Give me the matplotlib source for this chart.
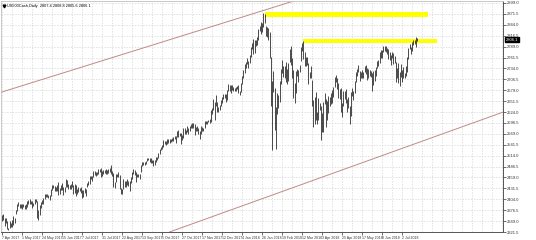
import matplotlib.pyplot as plt

# US500Cash daily bars, 7 Apr 2017 .. 18 Jul 2018 (one bar per trading day)
lows = [
    2348, 2351, 2337, 2343, 2328, 2326, 2332, 2335, 2335, 2339, 2344, 2367, 2375, 2386, 2381, 2382,
    2380, 2385, 2380, 2380, 2385, 2393, 2393, 2392, 2383, 2387, 2392, 2396, 2356, 2352, 2365, 2382,
    2391, 2393, 2405, 2409, 2410, 2407, 2403, 2412, 2427, 2432, 2426, 2425, 2426, 2415, 2418, 2428,
    2427, 2415, 2423, 2436, 2436, 2430, 2431, 2430, 2436, 2418, 2420, 2413, 2418, 2422, 2424, 2420,
    2406, 2410, 2419, 2413, 2434, 2440, 2443, 2455, 2450, 2461, 2465, 2463, 2466, 2469, 2472, 2459,
    2463, 2467, 2470, 2468, 2469, 2470, 2474, 2468, 2463, 2436, 2432, 2447, 2460, 2461, 2429, 2417,
    2418, 2430, 2436, 2435, 2439, 2437, 2424, 2444, 2456, 2469, 2466, 2447, 2459, 2460, 2456, 2474,
    2488, 2490, 2490, 2492, 2500, 2502, 2497, 2496, 2496, 2488, 2491, 2499, 2502, 2509, 2519, 2528,
    2531, 2536, 2544, 2542, 2543, 2547, 2547, 2549, 2551, 2552, 2556, 2547, 2560, 2562, 2563, 2544,
    2553, 2558, 2568, 2569, 2574, 2568, 2577, 2583, 2584, 2584, 2566, 2575, 2575, 2568, 2557, 2568,
    2576, 2576, 2584, 2594, 2595, 2598, 2596, 2600, 2620, 2628, 2605, 2638, 2624, 2624, 2628, 2638,
    2648, 2657, 2659, 2650, 2655, 2677, 2678, 2673, 2679, 2677, 2676, 2678, 2681, 2671, 2668, 2674,
    2694, 2711, 2722, 2736, 2744, 2734, 2747, 2764, 2783, 2770, 2772, 2790, 2794, 2806, 2828, 2822,
    2826, 2838, 2849, 2815, 2814, 2805, 2760, 2638, 2529, 2675, 2579, 2532, 2620, 2635, 2650, 2695,
    2723, 2712, 2710, 2700, 2694, 2703, 2749, 2743, 2711, 2659, 2647, 2672, 2716, 2701, 2724, 2752,
    2779, 2758, 2741, 2739, 2743, 2695, 2711, 2710, 2640, 2586, 2595, 2605, 2593, 2605, 2630, 2554,
    2574, 2573, 2645, 2586, 2605, 2622, 2639, 2645, 2647, 2663, 2688, 2701, 2681, 2660, 2657, 2625,
    2612, 2640, 2658, 2647, 2625, 2635, 2595, 2615, 2664, 2655, 2672, 2700, 2715, 2726, 2702, 2709,
    2711, 2709, 2726, 2721, 2705, 2709, 2714, 2712, 2676, 2691, 2702, 2716, 2735, 2739, 2748, 2761,
    2760, 2776, 2778, 2775, 2771, 2757, 2755, 2742, 2760, 2745, 2747, 2699, 2711, 2697, 2690, 2713,
    2700, 2709, 2710, 2716, 2726, 2758, 2782, 2770, 2779, 2793, 2795, 2787, 2802,
]
highs = [
    2364, 2366, 2356, 2356, 2348, 2332, 2349, 2345, 2352, 2361, 2357, 2377, 2392, 2398, 2392, 2392,
    2392, 2392, 2390, 2392, 2400, 2403, 2404, 2400, 2399, 2395, 2404, 2405, 2400, 2376, 2390, 2396,
    2401, 2406, 2418, 2417, 2418, 2416, 2416, 2431, 2441, 2441, 2437, 2436, 2439, 2447, 2432, 2441,
    2444, 2435, 2436, 2454, 2452, 2442, 2440, 2442, 2450, 2441, 2443, 2440, 2431, 2436, 2432, 2435,
    2427, 2428, 2432, 2431, 2446, 2450, 2462, 2463, 2462, 2475, 2476, 2474, 2474, 2480, 2481, 2484,
    2475, 2478, 2479, 2480, 2478, 2481, 2483, 2490, 2476, 2471, 2448, 2468, 2469, 2474, 2466, 2433,
    2431, 2454, 2450, 2449, 2454, 2449, 2449, 2459, 2474, 2481, 2477, 2472, 2468, 2469, 2468, 2490,
    2497, 2499, 2499, 2501, 2509, 2509, 2509, 2507, 2504, 2503, 2503, 2511, 2511, 2520, 2530, 2536,
    2541, 2553, 2552, 2552, 2555, 2556, 2556, 2557, 2559, 2561, 2563, 2563, 2576, 2579, 2572, 2570,
    2566, 2584, 2583, 2579, 2589, 2584, 2590, 2593, 2597, 2596, 2593, 2586, 2588, 2583, 2575, 2589,
    2587, 2585, 2601, 2601, 2601, 2605, 2606, 2628, 2634, 2657, 2650, 2666, 2649, 2636, 2642, 2654,
    2661, 2670, 2669, 2669, 2679, 2694, 2693, 2691, 2693, 2686, 2685, 2688, 2690, 2693, 2677, 2698,
    2715, 2730, 2745, 2750, 2760, 2752, 2768, 2789, 2797, 2808, 2806, 2806, 2812, 2834, 2842, 2852,
    2848, 2875, 2872, 2840, 2839, 2835, 2825, 2762, 2702, 2728, 2685, 2637, 2672, 2668, 2702, 2732,
    2755, 2740, 2740, 2749, 2732, 2748, 2782, 2790, 2761, 2730, 2696, 2728, 2733, 2731, 2742, 2789,
    2798, 2803, 2776, 2763, 2762, 2748, 2724, 2741, 2704, 2655, 2662, 2675, 2625, 2660, 2648, 2639,
    2622, 2649, 2673, 2656, 2653, 2665, 2662, 2672, 2680, 2687, 2713, 2717, 2710, 2696, 2683, 2684,
    2647, 2676, 2678, 2683, 2656, 2661, 2639, 2674, 2684, 2676, 2702, 2726, 2733, 2742, 2728, 2726,
    2731, 2726, 2740, 2742, 2735, 2733, 2731, 2728, 2722, 2727, 2729, 2737, 2753, 2754, 2775, 2780,
    2781, 2790, 2791, 2791, 2786, 2784, 2775, 2768, 2775, 2772, 2765, 2750, 2734, 2747, 2724, 2744,
    2729, 2737, 2722, 2740, 2764, 2786, 2796, 2787, 2801, 2805, 2805, 2812, 2810,
]
last_price = 2806.1

# time labels, one every 16 bars
date_labels = ["7 Apr 2017", "1 May 2017", "24 May 2017", "15 Jun 2017", "7 Jul 2017",
               "31 Jul 2017", "22 Aug 2017", "13 Sep 2017", "5 Oct 2017", "27 Oct 2017",
               "17 Nov 2017", "12 Dec 2017", "4 Jan 2018", "26 Jan 2018", "19 Feb 2018",
               "12 Mar 2018", "3 Apr 2018", "25 Apr 2018", "17 May 2018", "8 Jun 2018",
               "2 Jul 2018"]
price_levels = [2899.0 - 27.5 * k for k in range(22)]

# drawn objects: channel lines (bar, price) and the two yellow resistance zones
lower_channel = [(134, 2321.5), (401, 2624.0)]
upper_channel = [(-1.6, 2673.0), (174.4, 2846.0)]
zone_top = {"bars": [210, 341], "prices": [2864, 2876]}
zone_mid = {"bars": [241, 348], "prices": [2799, 2808]}

fig = plt.figure(figsize=(5.36, 2.4), dpi=100)
ax = fig.add_axes([1 / 536, 8 / 240, 502 / 536, 231 / 240])

bars = list(range(len(lows)))
ax.vlines(bars, lows, highs, color="#1a1a1a", lw=0.55)

ax.axline(*lower_channel, color="#c08a84", lw=0.7)
ax.axline(*upper_channel, color="#c08a84", lw=0.7)
for z in (zone_top, zone_mid):
    ax.fill_between(z["bars"], z["prices"][0], z["prices"][1], color="#ffff00", lw=0)

ax.set_xlim(-0.8, 400.8)
ax.set_ylim(2326.5, 2904)

ax.set_xticks(range(0, 16 * len(date_labels), 16))
ax.set_xticklabels(date_labels, fontsize=2.5, ha="left", family="Liberation Sans")
ax.set_xticks(range(0, 401, 8), minor=True)
ax.yaxis.tick_right()
ax.set_yticks(price_levels)
ax.set_yticklabels([f"{p:.1f}" for p in price_levels], fontsize=3.0, family="Liberation Sans")
ax.tick_params(length=2, width=0.5, pad=1, colors="#333333")
ax.tick_params(which="minor", length=0)
ax.grid(True, which="both", color="#d4d4d4", lw=0.5, ls=(0, (2, 2)))
ax.set_axisbelow(True)

for side in ("top", "left"):
    ax.spines[side].set_color("#c0c0c0")
    ax.spines[side].set_linewidth(0.6)
for side in ("right", "bottom"):
    ax.spines[side].set_color("#555555")
    ax.spines[side].set_linewidth(0.7)

ax.text(1.006, last_price, f"{last_price:.1f}", transform=ax.get_yaxis_transform(),
        fontsize=3.0, color="white", va="center", ha="left", family="Liberation Sans",
        bbox=dict(boxstyle="square,pad=0.15", fc="black", ec="black"))
ax.text(0.012, 0.985, "US500Cash,Daily  2807.4 2808.8 2805.6 2806.1", transform=ax.transAxes,
        fontsize=2.8, va="top", ha="left", color="black", family="Liberation Sans")
ax.plot([0.005], [0.978], marker="v", ms=2, color="black", transform=ax.transAxes)

fig.savefig("out.png", dpi=100)
